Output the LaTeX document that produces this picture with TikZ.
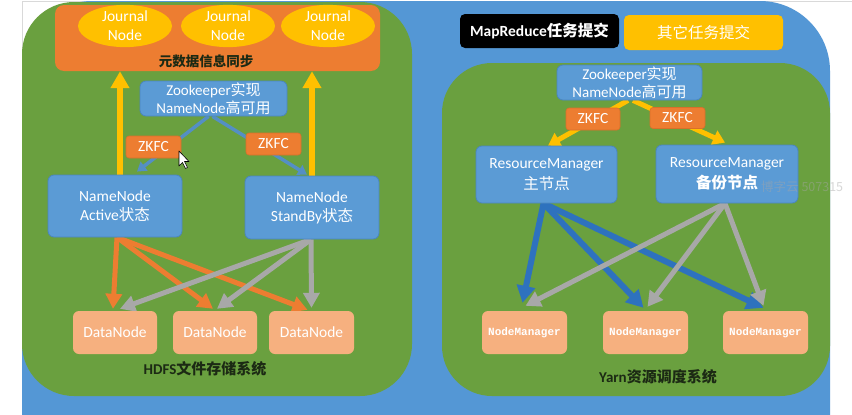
\documentclass[tikz,border=0pt]{standalone}
\usepackage{fontspec}
\setmainfont{Carlito}
\newfontfamily\cjk{Noto Sans CJK SC}
\newfontfamily\nmfont{Liberation Mono}
\usetikzlibrary{arrows.meta,shapes.geometric}
\pgfdeclarelayer{bg}\pgfdeclarelayer{mid}\pgfsetlayers{bg,mid,main}
\definecolor{bgblue}{HTML}{5497D5}
\definecolor{boxblue}{HTML}{5B9BD5}
\definecolor{boxedge}{HTML}{4A86C0}
\definecolor{grn}{HTML}{6AA03F}
\definecolor{zkorange}{HTML}{ED7D31}
\definecolor{zkedge}{HTML}{D9702A}
\definecolor{jyellow}{HTML}{FFC000}
\definecolor{dnorange}{HTML}{F6B07F}
\definecolor{darkblue}{HTML}{2E72BE}
\definecolor{arrgray}{HTML}{A8A8A8}
\definecolor{titlecol}{HTML}{1C2A14}
\newcommand\zhtxt[1]{{\cjk #1}}
\begin{document}
\begin{tikzpicture}[x=1pt,y=-1pt,
  base/.style={font=\fontsize{15.5}{19}\selectfont, text=white, align=center, inner sep=0pt},
  bluebox/.style={base, rectangle, rounded corners=6pt, fill=boxblue, draw=boxedge, line width=0.8pt},
  zkfcbox/.style={base, rectangle, rounded corners=3pt, fill=zkorange, draw=zkedge, line width=0.6pt, minimum width=55pt, minimum height=22pt},
  jnode/.style={base, ellipse, fill=jyellow, minimum width=94pt, minimum height=42pt},
  dnbox/.style={base, rectangle, rounded corners=6pt, fill=dnorange, minimum width=84pt, minimum height=43pt},
  nmbox/.style={dnbox, font=\nmfont\bfseries\fontsize{11}{13}\selectfont},
  titletxt/.style={font=\bfseries\fontsize{15}{18}\selectfont, text=titlecol, inner sep=0pt},
  yarrowbig/.style={draw=jyellow, line width=6pt, -{Triangle[width=18pt,length=17pt]}},
  oarrow/.style={draw=zkorange, line width=5pt, -{Triangle[width=16pt,length=15pt]}},
  garrow/.style={draw=arrgray, line width=5pt, -{Triangle[width=16pt,length=15pt]}},
  thinb/.style={draw=boxblue!92!black, line width=3.5pt, -{Triangle[width=11pt,length=9pt]}},
  yarrowsm/.style={draw=jyellow, line width=5pt, -{Triangle[width=15pt,length=12pt]}},
  barrow/.style={draw=darkblue, line width=6pt, -{Triangle[width=18pt,length=17pt]}},
]
\useasboundingbox (0,0) rectangle (852,415);

% ---------- nodes: HDFS ----------
\node (meta) [rectangle, rounded corners=9pt, fill=zkorange, minimum width=325pt, minimum height=66pt, inner sep=0pt] at (217.5,38) {};
\node (jn1) [jnode] at (125,26) {Journal\\Node};
\node (jn2) [jnode] at (228,26) {Journal\\Node};
\node (jn3) [jnode] at (328,26) {Journal\\Node};
\node (metalbl) [titletxt, font=\cjk\bfseries\fontsize{13.5}{16}\selectfont] at (206,61) {元数据信息同步};
\node (zk1) [bluebox, minimum width=147pt, minimum height=35pt, font=\fontsize{15}{18}\selectfont] at (213.5,98.5) {Zookeeper\zhtxt{实现}\\NameNode\zhtxt{高可用}};
\node (zkfc1) [zkfcbox] at (153.5,147) {ZKFC};
\node (zkfc2) [zkfcbox] at (273.5,144) {ZKFC};
\node (act) [bluebox, minimum width=134pt, minimum height=62pt] at (115,206) {NameNode\\Active\zhtxt{状态}};
\node (sb) [bluebox, minimum width=134pt, minimum height=63pt] at (312,207.5) {NameNode\\StandBy\zhtxt{状态}};
\node (dn1) [dnbox] at (115,332.5) {DataNode};
\node (dn2) [dnbox] at (215,332.5) {DataNode};
\node (dn3) [dnbox, minimum width=85pt] at (311.5,332.5) {DataNode};
\node (hdfs) [titletxt] at (205,369) {HDFS\zhtxt{文件存储系统}};

% ---------- nodes: Yarn ----------
\node (mr) [base, rectangle, rounded corners=5pt, fill=black, minimum width=159pt, minimum height=34pt, font=\bfseries\fontsize{15.5}{19}\selectfont] at (539.5,31) {MapReduce\zhtxt{任务提交}};
\node (other) [base, rectangle, rounded corners=5pt, fill=jyellow, minimum width=159pt, minimum height=35pt, font=\cjk\fontsize{15.5}{19}\selectfont] at (703.5,32.5) {其它任务提交};
\node (zk2) [bluebox, minimum width=145pt, minimum height=35pt, font=\fontsize{15}{18}\selectfont] at (629.5,82.5) {Zookeeper\zhtxt{实现}\\NameNode\zhtxt{高可用}};
\node (zkfc3) [zkfcbox, minimum width=54pt] at (593,119) {ZKFC};
\node (zkfc4) [zkfcbox, minimum height=21pt] at (677.5,118) {ZKFC};
\node (rm1) [bluebox, minimum width=141pt, minimum height=57pt, font=\fontsize{15.5}{21}\selectfont] at (546.5,174.5) {ResourceManager\\\zhtxt{主节点}};
\node (rm2) [bluebox, minimum width=142pt, minimum height=58pt, font=\fontsize{15.5}{21}\selectfont] at (727,174) {ResourceManager\\\zhtxt{\bfseries 备份节点}};
\node (nm1) [nmbox, minimum width=85pt] at (524.5,332.5) {NodeManager};
\node (nm2) [nmbox, minimum width=85pt] at (645.5,332.5) {NodeManager};
\node (nm3) [nmbox, minimum width=85pt] at (765.5,332.5) {NodeManager};
\node (yarn) [titletxt] at (658,377) {Yarn\zhtxt{资源调度系统}};
\node (wm) [anchor=west, inner sep=0pt, text=gray!70, text opacity=0.45, font=\cjk\fontsize{12.5}{15}\selectfont] at (761,187) {博字云 507315};

% ---------- background ----------
\begin{pgfonlayer}{bg}
\fill[white] (0,0) rectangle (852,415);
\draw[gray!30, line width=0.6pt] (22,415) -- (22,1) -- (852,1);
\fill[bgblue] (22,415) [rounded corners=70pt] -- (22,1) -- (830,1) [sharp corners] -- (830,415) -- cycle;
\fill[grn, rounded corners=52pt] (22,2) rectangle (412,396);
\fill[grn, rounded corners=50pt] (442,63) rectangle (830,396);
\end{pgfonlayer}

% ---------- connectors ----------
\begin{pgfonlayer}{mid}
\draw[yarrowbig] ([xshift=5pt]act.north) -- ([xshift=5pt]act.north |- meta.south);
\draw[yarrowbig] (sb.north) -- (sb.north |- meta.south);
\draw[thinb] ([xshift=-5pt]zk1.south) -- ([xshift=22pt,yshift=3pt]act.north);
\draw[thinb] ([xshift=-1pt]zk1.south) -- ([xshift=-5pt,yshift=1pt]sb.north);
\draw[oarrow] ([xshift=2pt]act.south) -- ([xshift=-2pt,yshift=2pt]dn1.north);
\draw[oarrow] ([xshift=2pt]act.south) -- ([xshift=-2pt,yshift=2pt]dn2.north);
\draw[oarrow] ([xshift=2pt]act.south) -- ([xshift=-4pt,yshift=1pt]dn3.north);
\draw[garrow] ([xshift=-1pt]sb.south) -- ([xshift=5pt,yshift=2pt]dn1.north);
\draw[garrow] ([xshift=-1pt]sb.south) -- ([xshift=2pt,yshift=2pt]dn2.north);
\draw[garrow] ([xshift=-1pt]sb.south) -- ([xshift=0pt,yshift=3pt]dn3.north);

\draw[yarrowsm] ([xshift=-1.5pt]zk2.south) -- ([xshift=1.5pt]rm1.north);
\draw[yarrowsm] ([xshift=3.5pt]zk2.south) -- ([xshift=-2pt,yshift=2pt]rm2.north);
\draw[barrow] ([xshift=-3pt]rm1.south) -- ([xshift=-2pt,yshift=8pt]nm1.north);
\draw[barrow] ([xshift=-3pt]rm1.south) -- ([xshift=-2pt,yshift=3pt]nm2.north);
\draw[barrow] ([xshift=-3pt]rm1.south) -- ([xshift=-2pt,yshift=3pt]nm3.north);
\draw[garrow] ([xshift=-2pt]rm2.south) -- ([xshift=1pt,yshift=5pt]nm1.north);
\draw[garrow] ([xshift=-2pt]rm2.south) -- ([xshift=2pt,yshift=4pt]nm2.north);
\draw[garrow] ([xshift=-2pt]rm2.south) -- ([xshift=-2pt,yshift=5pt]nm3.north);
\end{pgfonlayer}

% ---------- mouse cursor ----------
\fill[white, draw=black, line width=0.6pt, line join=round]
  (179,151) -- (179,166) -- (182.5,162.5) -- (185.5,168.5) -- (187.5,167.5) -- (184.5,161.5) -- (189,161.5) -- cycle;
\end{tikzpicture}
\end{document}
